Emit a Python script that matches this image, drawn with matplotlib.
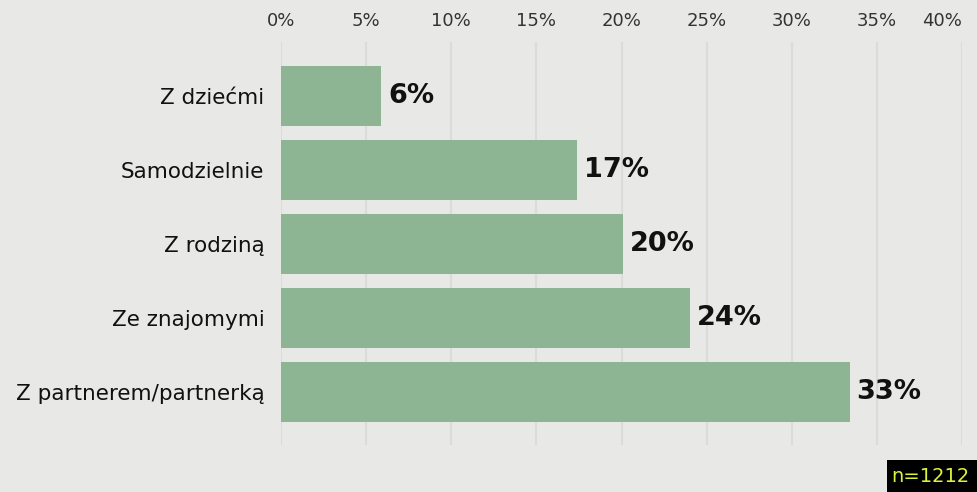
import matplotlib.pyplot as plt
from matplotlib.patches import Rectangle

categories = ["Z dziećmi", "Samodzielnie", "Z rodziną", "Ze znajomymi", "Z partnerem/partnerką"]
values = [5.9, 17.4, 20.1, 24.0, 33.4]
ticks = [0, 5, 10, 15, 20, 25, 30, 35, 40]
sample_note = "n=1212"

bg = "#e8e9e6"
bar_color = "#8db594"

plt.rcParams['font.family'] = ['DejaVu Sans']

fig = plt.figure(figsize=(9.78, 4.92), dpi=100, facecolor=bg)
ax = fig.add_axes([281 / 978, 1 - 445 / 492, (962 - 281) / 978, (445 - 42) / 492])
ax.set_facecolor(bg)

y = range(len(categories))
ax.barh(y, values, height=0.81, color=bar_color, zorder=2)
for yi, v in zip(y, values):
    ax.text(v + 0.4, yi, f"{v:.0f}%", va='center', ha='left',
            fontsize=19.5, fontweight='bold', color='#111111', zorder=3)

ax.set_xlim(0, 40)
ax.set_ylim(4.72, -0.73)
ax.set_xticks(ticks)
ax.set_xticklabels([f"{t}%" for t in ticks])
ax.xaxis.tick_top()
ax.tick_params(axis='x', length=0, pad=9, labelsize=13, labelcolor='#333333')
ax.set_yticks(list(y))
ax.set_yticklabels(categories)
ax.tick_params(axis='y', length=0, pad=12, labelsize=15.5, labelcolor='#111111')
ax.grid(axis='x', color='#dbdcd9', linewidth=1.5, zorder=0)
for s in ax.spines.values():
    s.set_visible(False)

# last tick label sits against the right edge in the reference
ax.get_xticklabels()[-1].set_horizontalalignment('right')
ax.get_xticklabels()[-1].set_x(40.85)

fig.patches.append(Rectangle((887 / 978, 0), 91 / 978, 32 / 492,
                             transform=fig.transFigure, facecolor='black',
                             edgecolor='none'))
fig.text(930 / 978, 15 / 492, sample_note, ha='center', va='center', fontsize=14,
         color='#dff23a')

fig.savefig("out.png", dpi=100, facecolor=bg)
